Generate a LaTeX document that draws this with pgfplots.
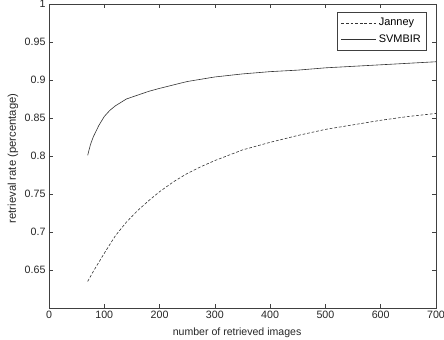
\documentclass[border=0pt]{standalone}
\usepackage{fontspec}
\setmainfont{Liberation Sans}
\usepackage{pgfplots}
\pgfplotsset{compat=1.18}
\begin{document}
\begin{tikzpicture}
\path[use as bounding box] (-49bp,-32bp) rectangle (395bp,308bp);
\begin{axis}[
  scale only axis,
  width=387bp, height=304bp,
  at={(0,0)}, anchor=south west,
  xmin=0, xmax=700, ymin=0.6, ymax=1,
  xtick={0,100,...,700},
  ytick={0.65,0.7,0.75,0.8,0.85,0.9,0.95,1},
  yticklabels={0.65,0.7,0.75,0.8,0.85,0.9,0.95,1},
  tick align=inside,
  major tick length=4bp,
  axis line style={black!75, line width=0.6bp},
  every tick/.style={black!75, line width=0.6bp},
  tick label style={font=\fontsize{10.7}{12}\selectfont, text=black!85},
  /pgf/number format/assume math mode=true,
  xlabel={number of retrieved images},
  ylabel={retrieval rate (percentage)},
  xlabel style={font=\fontsize{10.6}{12}\selectfont, text=black!85,
    at={(axis description cs:0.486,-0.082)}, anchor=center},
  ylabel style={font=\fontsize{11.3}{12}\selectfont, text=black!85,
    at={(axis description cs:-0.093,0.492)}, anchor=center},
  legend style={at={(rel axis cs:0.977,0.975)}, anchor=north east,
    draw=black!75, line width=0.6bp, font=\fontsize{11}{12}\selectfont,
    inner xsep=4bp, inner ysep=4.5bp, row sep=3bp},
  legend cell align=left,
  legend image code/.code={\draw[#1] (0bp,0bp) -- (35bp,0bp);},
]
\addplot[black!80, line width=0.6bp, dash pattern=on 2.8bp off 1.8bp] coordinates {
(70,0.635) (80,0.648) (90,0.660) (100,0.672) (120,0.695) (140,0.713) (160,0.728)
(180,0.741) (200,0.753) (225,0.766) (250,0.777) (275,0.786) (300,0.794) (350,0.808)
(400,0.818) (450,0.827) (500,0.835) (550,0.841) (600,0.847) (650,0.852) (700,0.856)
};
\addlegendentry{Janney}
\addplot[black!80, line width=0.6bp] coordinates {
(70,0.801) (75,0.815) (80,0.825) (90,0.840) (100,0.852) (110,0.860) (120,0.866)
(140,0.875) (160,0.880) (180,0.885) (200,0.889) (250,0.898) (300,0.904) (350,0.908)
(400,0.911) (450,0.913) (500,0.916) (550,0.918) (600,0.920) (650,0.922) (700,0.924)
};
\addlegendentry{SVMBIR}
\end{axis}
\end{tikzpicture}
\end{document}
